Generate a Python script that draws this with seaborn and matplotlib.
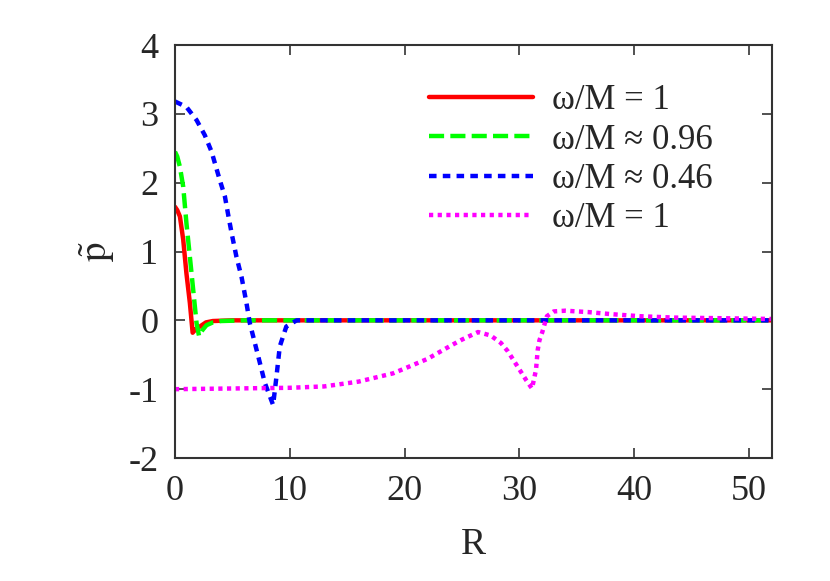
import numpy as np
import pandas as pd
import matplotlib
matplotlib.use("Agg")
import matplotlib.pyplot as plt
import seaborn as sns

# data
r_red = [0, 0.2, 0.43, 0.72, 1.0, 1.3, 1.54, 1.8, 2.17, 2.7, 3.3, 5, 52]
p_red = [1.65, 1.60, 1.51, 1.17, 0.68, 0.25, -0.18, -0.13, -0.09, -0.03, -0.01, 0, 0]

r_green = [0, 0.2, 0.43, 0.72, 1.0, 1.3, 1.59, 1.88, 2.1, 2.4, 2.75, 3.3, 4.0, 6, 52]
p_green = [2.45, 2.38, 2.23, 1.94, 1.41, 0.92, 0.44, -0.04, -0.23, -0.14, -0.07, -0.03, -0.01, 0, 0]

r_blue = [0, 1.0, 1.88, 2.6, 3.19, 3.9, 4.35, 4.64, 4.93, 5.36, 5.8, 6.23, 6.52, 6.96, 7.4,
          7.83, 8.55, 8.84, 9.13, 9.7, 10.6, 52]
p_blue = [3.18, 3.10, 2.91, 2.69, 2.45, 2.04, 1.80, 1.53, 1.27, 0.92, 0.63, 0.25, -0.04, -0.33,
          -0.62, -0.91, -1.23, -0.82, -0.38, -0.09, 0, 0]

r_mag = [0, 5, 10, 13, 16, 19, 22, 24, 25, 26.4, 27.5, 28.4, 29, 29.8, 30.6, 31.1, 31.45,
         31.6, 31.75, 32, 32.4, 33, 34, 36, 38, 40.5, 43.5, 48, 52]
p_mag = [-1.0, -0.99, -0.98, -0.96, -0.89, -0.77, -0.56, -0.37, -0.28, -0.17, -0.22, -0.33,
         -0.45, -0.66, -0.87, -0.99, -0.72, -0.43, -0.29, -0.17, 0.06, 0.13, 0.14, 0.12, 0.09,
         0.06, 0.04, 0.03, 0.02]

labels = ["ω/M = 1", "ω/M ≈ 0.96", "ω/M ≈ 0.46", "ω/M = 1"]
colors = ["#ff0000", "#00ff00", "#0000ff", "#ff00ff"]
styles = ["-", (0, (3.4, 1.4)), (0, (1.7, 1.4)), (0, (0.95, 1.0))]

sns.set_style("ticks")
plt.rcParams["font.family"] = ["Liberation Serif", "DejaVu Serif"]
plt.rcParams["mathtext.fontset"] = "stix"
plt.rcParams["axes.unicode_minus"] = False

fig, ax = plt.subplots(figsize=(8.3, 5.81), dpi=100)
fig.subplots_adjust(left=0.2108, right=0.930, top=0.9225, bottom=0.2117)

series = [(r_red, p_red), (r_green, p_green), (r_blue, p_blue), (r_mag, p_mag)]
for (r, p), lab, c, ls in zip(series, labels, colors, styles):
    df = pd.DataFrame({"R": r, "p": p})
    sns.lineplot(data=df, x="R", y="p", ax=ax, color=c, linestyle=ls, lw=3.2, label=lab)

ax.set_xlim(0, 52)
ax.set_ylim(-2, 4)
ax.set_xticks([0, 10, 20, 30, 40, 50])
ax.set_yticks([-2, -1, 0, 1, 2, 3, 4])
ax.set_xlabel("R", fontsize=27, labelpad=14)
ax.set_ylabel(r"$\tilde{\mathrm{p}}$", fontsize=28, labelpad=8)

ax.tick_params(direction="in", length=7, width=1.2, labelsize=26, pad=12,
               top=True, right=True, color="#333333")
for s in ax.spines.values():
    s.set_linewidth(1.5)
    s.set_color("#333333")

ax.legend(loc="upper left", bbox_to_anchor=(0.4255, 0.905), frameon=False,
          fontsize=25, handlelength=3.0, handletextpad=0.55, labelspacing=0.18,
          borderpad=0, borderaxespad=0)

fig.savefig("out.png", dpi=100)
